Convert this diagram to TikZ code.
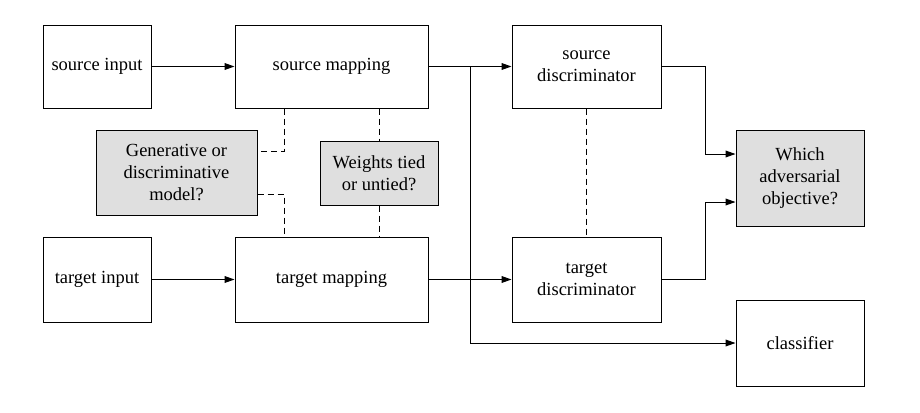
\documentclass[tikz,border=0pt]{standalone}
\usepackage{fontspec}
\setmainfont{Liberation Serif}
\usetikzlibrary{arrows.meta}
\begin{document}
\begin{tikzpicture}[x=0.5pt,y=-0.5pt,
  box/.style={draw,line width=0.5pt,align=center,inner sep=0pt,font=\rmfamily\fontsize{9.25}{11}\selectfont},
  qbox/.style={box,fill=gray!25},
  conn/.style={line width=0.5pt,-{Triangle[length=5pt,width=3.4pt]}},
  dsh/.style={line width=0.5pt,dash pattern=on 3pt off 2pt}]
\useasboundingbox (0,0) rectangle (920,412);
\node[box,minimum width=54pt,minimum height=41.5pt] (si) at (97,66.5) {source input};
\node[box,minimum width=96.5pt,minimum height=41.5pt] (sm) at (331.5,66.5) {source mapping};
\node[box,minimum width=74.5pt,minimum height=41.5pt] (sd) at (586.5,66.5) {source\\discriminator};
\node[box,minimum width=54pt,minimum height=42.5pt] (ti) at (97,279.5) {target input};
\node[box,minimum width=96.5pt,minimum height=42.5pt] (tm) at (331.5,279.5) {target mapping};
\node[box,minimum width=74.5pt,minimum height=42.5pt] (td) at (586.5,279.5) {target\\discriminator};
\node[qbox,minimum width=80.5pt,minimum height=42.5pt] (gen) at (176.5,172.5) {Generative or\\discriminative\\model?};
\node[qbox,minimum width=59pt,minimum height=32pt] (wt) at (379,173) {Weights tied\\or untied?};
\node[qbox,minimum width=64pt,minimum height=48pt] (adv) at (800,178) {Which\\adversarial\\objective?};
\node[box,minimum width=64pt,minimum height=43pt] (cl) at (800,343) {classifier};
\coordinate (br) at (470,66.5);
\draw[conn] (si) -- (sm);
\draw[conn] (ti) -- (tm);
\draw[conn] (sm) -- (sd);
\draw[conn] (tm) -- (td);
\draw[conn] (br) |- (cl.west);
\draw[conn] (sd.east) -| (705,154) -- (adv.west |- 0,154);
\draw[conn] (td.east) -| (705,202) -- (adv.west |- 0,202);
\draw[dsh] (sd.south) -- (td.north);
\draw[dsh] (sm.south -| 284,0) |- (gen.east |- 0,151);
\draw[dsh] (gen.east |- 0,194) -| (tm.north -| 284,0);
\draw[dsh] (sm.south -| wt.north) -- (wt.north);
\draw[dsh] (wt.south) -- (tm.north -| wt.south);
\end{tikzpicture}
\end{document}
